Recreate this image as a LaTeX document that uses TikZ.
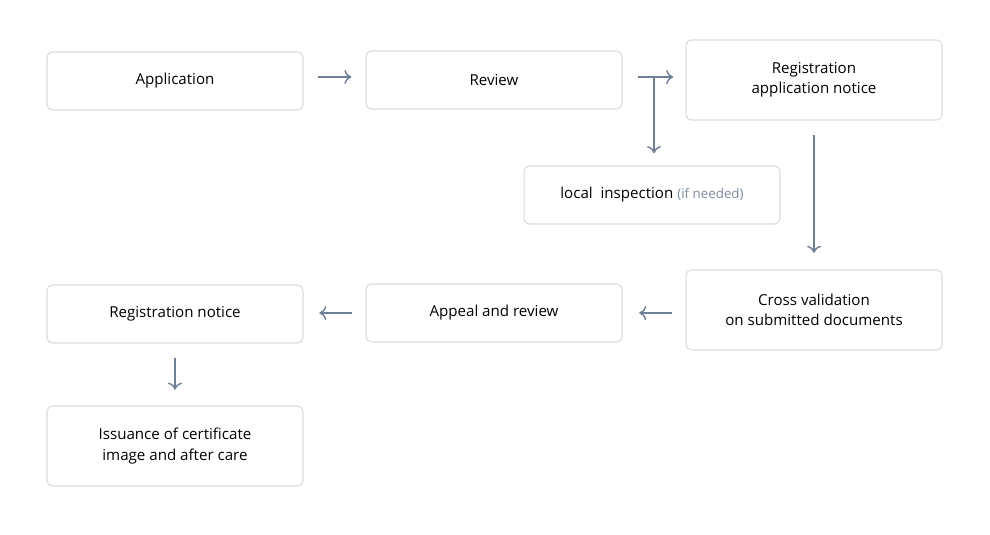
\documentclass[tikz,border=0pt]{standalone}
\usepackage{fontspec}
\setmainfont{Open Sans}
\usetikzlibrary{arrows.meta}
\definecolor{boxline}{HTML}{D6DBE2}
\definecolor{flow}{HTML}{6F7F94}
\definecolor{hint}{HTML}{7D8A9C}
\tikzset{
  stage/.style={draw=boxline, line width=0.6pt, rounded corners=3pt, fill=white,
    minimum width=5.12cm, align=center, font=\fontsize{8.6}{11.5}\selectfont},
  short/.style={stage, minimum height=1.16cm},
  tall/.style={stage, minimum height=1.6cm},
  flow/.style={draw=flow, line width=0.8pt, -{To[length=4pt,width=8pt]}}
}
\begin{document}
\begin{tikzpicture}[x=0.02cm, y=-0.02cm]
\useasboundingbox (0,0) rectangle (990,534);
% top row
\node[short] (app) at (175,81) {Application};
\node[short] (rev) at (494,80) {Review};
\node[tall] (regapp) at (814,80) {Registration\\application notice};
\node[short] (insp) at (652,195) {local\ \ inspection \textcolor{hint}{\fontsize{7.6}{10}\selectfont(if needed)}};
% lower rows
\node[tall] (cross) at (814,310) {Cross validation\\on submitted documents};
\node[short] (appeal) at (494,313) {Appeal and review};
\node[short] (regnot) at (175,314) {Registration notice};
\node[tall] (issue) at (175,446) {Issuance of certificate\\image and after care};
% connectors
\coordinate (fork) at (654,77);
\draw[flow, shorten <=8pt, shorten >=8pt] (app.east |- fork) -- (rev.west |- fork);
\draw[flow, shorten <=9pt, shorten >=7pt] (rev.east |- fork) -- (regapp.west |- fork);
\draw[flow, shorten >=7pt] (fork) -- (fork |- insp.north);
\draw[flow, shorten <=8.5pt, shorten >=9.5pt] (regapp.south) -- (cross.north);
\draw[flow, shorten <=7.5pt, shorten >=9.5pt] (cross.west |- appeal) -- (appeal.east);
\draw[flow, shorten <=7.5pt, shorten >=9pt] (appeal.west) -- (regnot.east |- appeal);
\draw[flow, shorten <=8pt, shorten >=9pt] (regnot.south) -- (issue.north);
\end{tikzpicture}
\end{document}
